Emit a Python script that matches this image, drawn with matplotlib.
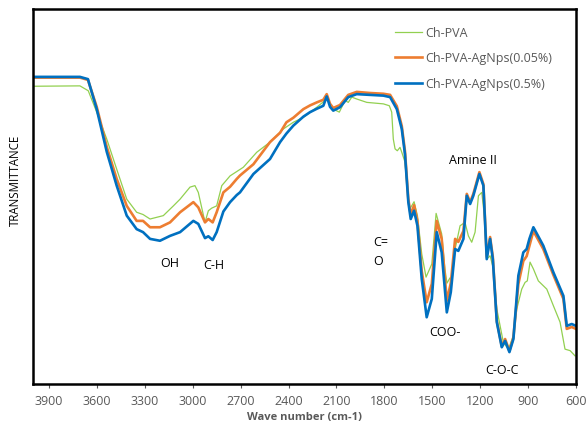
import matplotlib
matplotlib.use("Agg")
import matplotlib.pyplot as plt

plt.rcParams['font.family'] = ['Open Sans', 'DejaVu Sans']

# FTIR spectra: wavenumber (cm-1) and transmittance (arbitrary units)
wn_pva = [4000, 3706, 3654, 3601, 3538, 3476, 3413, 3351, 3311, 3267, 3184, 3121,
          3079, 3017, 2986, 2965, 2923, 2902, 2881, 2850, 2818, 2766, 2683, 2599,
          2516, 2433, 2370, 2307, 2223, 2161, 2120, 2082, 2046, 2026, 2004, 1973,
          1910, 1806, 1769, 1754, 1744, 1733, 1719, 1702, 1691, 1671, 1650, 1640,
          1614, 1593, 1566, 1539, 1503, 1476, 1441, 1421, 1408, 1389, 1377, 1357,
          1326, 1295, 1274, 1253, 1232, 1211, 1190, 1174, 1159, 1138, 1117, 1096,
          1055, 1023, 992, 971, 940, 919, 905, 888, 867, 836, 783, 742, 700, 669,
          637, 606]
t_pva = [79.4, 79.5, 78.2, 72.5, 65.3, 57.3, 49.3, 45.8, 45.2, 44.0, 44.9, 47.5,
         49.3, 52.5, 52.9, 51.1, 43.1, 46.2, 46.9, 47.5, 52.9, 55.5, 57.8, 61.8,
         64.5, 68.0, 69.8, 71.1, 73.8, 76.0, 73.3, 72.5, 75.6, 75.1, 76.5, 76.0,
         75.1, 74.7, 74.2, 72.5, 65.3, 62.7, 62.2, 63.1, 61.8, 59.2, 49.3, 46.7,
         48.6, 44.9, 34.7, 28.5, 32.0, 45.5, 40.0, 30.7, 26.9, 28.3, 27.2, 36.0,
         42.2, 43.1, 39.5, 37.8, 40.5, 50.2, 51.1, 44.9, 33.3, 34.2, 30.7, 20.0,
         11.1, 9.3, 12.9, 20.0, 25.3, 27.1, 27.5, 32.5, 30.7, 27.5, 25.3, 20.9,
         16.5, 9.3, 8.9, 7.5]

wn_ag = [4000, 3706, 3656, 3601, 3538, 3476, 3413, 3351, 3311, 3267, 3205, 3142,
         3079, 2996, 2965, 2923, 2902, 2875, 2850, 2808, 2766, 2724, 2704, 2620,
         2516, 2453, 2413, 2370, 2307, 2265, 2223, 2182, 2161, 2140, 2120, 2078,
         2026, 1973, 1890, 1806, 1764, 1722, 1691, 1671, 1650, 1635, 1614, 1593,
         1566, 1535, 1503, 1472, 1441, 1409, 1384, 1357, 1337, 1305, 1284, 1263,
         1243, 1205, 1180, 1159, 1138, 1121, 1096, 1065, 1044, 1017, 992, 961,
         930, 909, 892, 867, 805, 742, 679, 658, 627, 600]
t_ag005 = [81.7, 81.7, 81.1, 73.9, 63.2, 54.7, 47.5, 43.5, 43.5, 41.8, 41.8, 43.1,
           45.8, 48.5, 47.1, 43.1, 44.0, 43.1, 45.8, 51.1, 52.6, 54.7, 55.6, 58.6,
           64.5, 67.0, 69.8, 71.0, 73.3, 74.3, 75.1, 75.8, 77.3, 74.7, 73.6, 74.4,
           77.1, 77.9, 77.6, 77.4, 77.1, 74.1, 68.8, 62.1, 49.3, 45.1, 47.7, 43.5,
           30.1, 21.8, 26.7, 43.5, 38.7, 22.2, 26.9, 38.7, 37.9, 40.8, 50.7, 48.5,
           50.7, 56.5, 53.3, 33.9, 39.2, 33.9, 16.8, 10.1, 12.0, 8.8, 12.5, 26.7,
           32.8, 34.1, 36.8, 40.8, 36.0, 29.1, 22.7, 14.7, 15.2, 14.7]
t_ag05 = [81.9, 81.9, 81.3, 73.3, 61.9, 52.9, 44.9, 41.3, 40.5, 38.7, 38.2, 39.5,
          40.5, 43.5, 42.7, 38.9, 39.4, 38.4, 40.5, 46.0, 48.5, 50.4, 51.1, 56.0,
          60.0, 64.5, 66.8, 68.9, 71.3, 72.5, 73.4, 74.2, 76.7, 73.9, 72.9, 73.8,
          76.5, 77.3, 77.1, 76.9, 76.5, 73.3, 68.0, 61.3, 48.5, 44.0, 46.2, 42.2,
          28.0, 17.8, 22.7, 40.5, 35.1, 19.1, 24.5, 36.0, 35.5, 38.7, 50.2, 48.0,
          50.2, 56.0, 52.9, 33.3, 38.7, 33.3, 16.5, 9.8, 11.5, 8.5, 12.0, 28.9,
          35.1, 36.0, 38.7, 41.8, 36.9, 29.8, 23.5, 15.5, 16.0, 15.5]

series_names = ['Ch-PVA', 'Ch-PVA-AgNps(0.05%)', 'Ch-PVA-AgNps(0.5%)']

# band assignments: (text, wavenumber, transmittance)
bands = [('OH', 3142, 32.3), ('C-H', 2867, 31.8), ('C=\nO', 1869, 35.6),
         ('Amine II', 1247, 60.0), ('COO-', 1420, 14.1), ('C-O-C', 1063, 4.0)]

fig = plt.figure(figsize=(5.87, 4.31), dpi=100)
ax = fig.add_axes([0.0562, 0.1067, 0.9251, 0.8701])

ax.plot(wn_pva, t_pva, color='#92D050', lw=0.9, label=series_names[0])
ax.plot(wn_ag, t_ag005, color='#ED7D31', lw=1.9, label=series_names[1])
ax.plot(wn_ag, t_ag05, color='#0070C0', lw=1.9, label=series_names[2])

ax.set_xlim(4000, 600)
ax.set_ylim(0, 100)
ax.set_xticks(range(3900, 599, -300))
ax.set_yticks([])
ax.tick_params(axis='x', colors='#595959', labelsize=9, length=3, width=0.8,
               direction='out', pad=4)
for s in ax.spines.values():
    s.set_color('black')
    s.set_linewidth(1.8)

for txt, x, y in bands:
    ha = 'left' if txt.startswith('C=') else 'center'
    ax.text(x, y, txt, ha=ha, va='center', fontsize=9, color='black',
            linespacing=1.6)

ax.set_xlabel('Wave number (cm-1)', fontsize=8, fontweight='bold',
              color='#595959', labelpad=3)
fig.text(15 / 587, 1 - 180 / 431, 'TRANSMITTANCE', rotation=90, fontsize=8.3,
         ha='center', va='center', color='black')

leg = ax.legend(loc='upper left', bbox_to_anchor=(0.657, 0.968), frameon=False,
                fontsize=9, handlelength=2.2, handletextpad=0.25,
                labelspacing=1.0, borderaxespad=0)
for t in leg.get_texts():
    t.set_color('#595959')

fig.savefig('out.png', dpi=100)
